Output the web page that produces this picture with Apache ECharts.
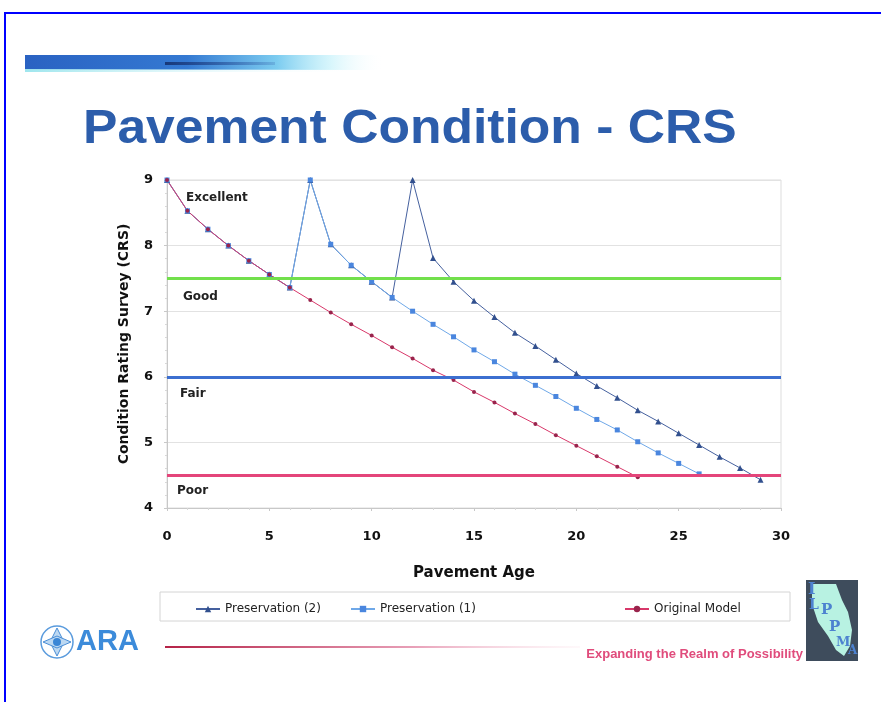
<!DOCTYPE html>
<html>
<head>
<meta charset="utf-8">
<script src="https://cdn.jsdelivr.net/npm/echarts@6/dist/echarts.min.js"></script>
<style>
html,body{margin:0;padding:0;background:#fff;}
#main{width:881px;height:702px;}
</style>
</head>
<body>
<div id="main"></div>
<script>
// values, one per pavement age (0,1,2,...)
var originalModel = [9, 8.53, 8.25, 8.0, 7.77, 7.56, 7.36, 7.17, 6.98, 6.80, 6.63, 6.45, 6.28, 6.10,
	5.95, 5.77, 5.61, 5.44, 5.28, 5.11, 4.95, 4.79, 4.63, 4.47];
var preservation1 = [9, 8.53, 8.25, 8.0, 7.77, 7.56, 7.36, 9, 8.02, 7.70, 7.45, 7.21, 7.0, 6.80,
	6.61, 6.41, 6.23, 6.04, 5.87, 5.70, 5.52, 5.35, 5.19, 5.01, 4.84, 4.68, 4.52];
var preservation2 = [9, 8.53, 8.25, 8.0, 7.77, 7.56, 7.36, 9, 8.02, 7.70, 7.45, 7.21, 9, 7.81,
	7.45, 7.16, 6.91, 6.67, 6.47, 6.26, 6.05, 5.86, 5.68, 5.49, 5.32, 5.14, 4.96, 4.78, 4.61, 4.43];
// condition thresholds
var thresholds = [7.5, 6, 4.5];
var thresholdColors = ['#72E04C', '#3C6FD0', '#E4457A'];
var zoneNames = ['Excellent', 'Good', 'Fair', 'Poor'];
var seriesNames = ['Preservation (2)', 'Preservation (1)', 'Original Model'];

var axisFont = 'DejaVu Sans';

//年龄-数值 配对
function toPairs(arr){
	var out = [];
	for(var i = 0; i < arr.length; i++){
		out.push([i, arr[i]]);
	}
	return out;
}

var chart = echarts.init(document.getElementById('main'));

var markData = [];
for(var i = 0; i < thresholds.length; i++){
	markData.push({
		yAxis: thresholds[i],
		lineStyle: { color: thresholdColors[i], width: 3, type: 'solid' }
	});
}

function legendAt(name, left){
	return {
		data: [name],
		left: left,
		top: 598,
		itemWidth: 24,
		itemHeight: 8,
		textStyle: { fontFamily: axisFont, fontSize: 12, color: '#222' }
	};
}

var zoneTop = [192, 291, 388, 485];
var zoneLeft = [186, 183, 180, 177];
var graphics = [
	// page frame
	{ type: 'polyline', shape: { points: [[881, 13], [5, 13], [5, 702]] },
		style: { stroke: '#0000FF', lineWidth: 2, fill: null } },
	// header bar
	{ type: 'rect', shape: { x: 25, y: 55, width: 360, height: 15 },
		style: { fill: new echarts.graphic.LinearGradient(0, 0, 1, 0, [
			{ offset: 0, color: '#2A62C2' },
			{ offset: 0.45, color: '#3479D2' },
			{ offset: 0.7, color: '#7CCCF0' },
			{ offset: 0.85, color: 'rgba(190,240,250,0.6)' },
			{ offset: 1, color: 'rgba(255,255,255,0)' }]) } },
	{ type: 'rect', shape: { x: 25, y: 69, width: 340, height: 3 },
		style: { fill: new echarts.graphic.LinearGradient(0, 0, 1, 0, [
			{ offset: 0, color: '#9FE6EE' },
			{ offset: 1, color: 'rgba(255,255,255,0)' }]) } },
	{ type: 'rect', shape: { x: 165, y: 62, width: 110, height: 3 },
		style: { fill: new echarts.graphic.LinearGradient(0, 0, 1, 0, [
			{ offset: 0, color: '#183878' },
			{ offset: 1, color: 'rgba(40,80,160,0.2)' }]) } },
	// title
	{ type: 'text', left: 83, top: 106, scaleX: 1.075,
		style: { text: 'Pavement Condition - CRS', fill: '#2C5DAB',
			font: 'bold 48px "Liberation Sans", Arial, sans-serif' } },
	// legend frame
	{ type: 'rect', shape: { x: 160, y: 592, width: 630, height: 29 },
		style: { fill: null, stroke: '#d4d4d4', lineWidth: 1 } },
	// ARA logo
	{ type: 'circle', shape: { cx: 57, cy: 642, r: 16 },
		style: { fill: null, stroke: '#5A9BDD', lineWidth: 1.5 } },
	{ type: 'polygon', shape: { points: [[57, 628], [64, 642], [57, 656], [50, 642]] },
		style: { fill: '#BCD8F2', stroke: '#4A8ED6', lineWidth: 1 } },
	{ type: 'polygon', shape: { points: [[43, 642], [57, 636], [71, 642], [57, 648]] },
		style: { fill: '#BCD8F2', stroke: '#4A8ED6', lineWidth: 1 } },
	{ type: 'circle', shape: { cx: 57, cy: 642, r: 4 }, style: { fill: '#3A86D6' } },
	{ type: 'text', left: 76, top: 627,
		style: { text: 'ARA', fill: '#3C8BDA', font: 'bold 29px "Liberation Sans", Arial, sans-serif' } },
	{ type: 'rect', shape: { x: 165, y: 646, width: 415, height: 2 },
		style: { fill: new echarts.graphic.LinearGradient(0, 0, 1, 0, [
			{ offset: 0, color: '#B52247' },
			{ offset: 0.6, color: '#E8A0B8' },
			{ offset: 1, color: 'rgba(250,220,230,0.2)' }]) } },
	{ type: 'text', right: 78, top: 648,
		style: { text: 'Expanding the Realm of Possibility', fill: '#E04C7C',
			font: 'bold 13px "Liberation Sans", Arial, sans-serif' } },
	// ILPPMA logo
	{ type: 'rect', shape: { x: 806, y: 580, width: 52, height: 81 },
		style: { fill: '#3E4C5C' } },
	{ type: 'polygon', shape: { points: [[812, 584], [836, 584], [842, 600], [848, 612], [852, 630], [850, 646],
		[844, 656], [836, 650], [828, 636], [818, 622], [812, 604]] },
		style: { fill: '#B8F2E2' } },
	{ type: 'text', left: 808, top: 582, style: { text: 'I', fill: '#4D82D0', font: 'bold 16px "DejaVu Serif", serif' } },
	{ type: 'text', left: 809, top: 598, style: { text: 'L', fill: '#4D82D0', font: 'bold 14px "DejaVu Serif", serif' } },
	{ type: 'text', left: 821, top: 603, style: { text: 'P', fill: '#4D82D0', font: 'bold 15px "DejaVu Serif", serif' } },
	{ type: 'text', left: 829, top: 620, style: { text: 'P', fill: '#4D82D0', font: 'bold 15px "DejaVu Serif", serif' } },
	{ type: 'text', left: 836, top: 636, style: { text: 'M', fill: '#4D82D0', font: 'bold 13px "DejaVu Serif", serif' } },
	{ type: 'text', left: 848, top: 645, style: { text: 'A', fill: '#4D82D0', font: 'bold 12px "DejaVu Serif", serif' } }
];
for(var z = 0; z < zoneNames.length; z++){
	graphics.push({ type: 'text', left: zoneLeft[z], top: zoneTop[z], z: 10,
		style: { text: zoneNames[z], fill: '#222', font: 'bold 12px "DejaVu Sans", sans-serif' } });
}

var option = {
	backgroundColor: '#fff',
	animation: false,
	grid: { left: 167, right: 100, top: 180, bottom: 194, show: true, borderColor: '#ddd', borderWidth: 1 },
	legend: [
		legendAt(seriesNames[0], 190),
		legendAt(seriesNames[1], 345),
		legendAt(seriesNames[2], 619)
	],
	xAxis: {
		type: 'value', min: 0, max: 30, interval: 5,
		name: 'Pavement Age', nameLocation: 'middle', nameGap: 58,
		nameTextStyle: { fontFamily: axisFont, fontWeight: 'bold', fontSize: 15, color: '#111' },
		axisLine: { lineStyle: { color: '#c8c8c8' } },
		axisTick: { show: true, length: 3, lineStyle: { color: '#c8c8c8' } },
		minorTick: { show: true, splitNumber: 5, length: 2, lineStyle: { color: '#d8d8d8' } },
		splitLine: { show: false },
		axisLabel: { margin: 22, fontFamily: axisFont, fontWeight: 'bold', fontSize: 13, color: '#111' }
	},
	yAxis: {
		type: 'value', min: 4, max: 9, interval: 1,
		name: 'Condition Rating Survey (CRS)', nameLocation: 'middle', nameGap: 36,
		nameTextStyle: { fontFamily: axisFont, fontWeight: 'bold', fontSize: 14, color: '#111' },
		axisLine: { show: true, lineStyle: { color: '#c8c8c8' } },
		axisTick: { show: true, length: 3, lineStyle: { color: '#c8c8c8' } },
		minorTick: { show: true, splitNumber: 5, length: 2, lineStyle: { color: '#d8d8d8' } },
		splitLine: { show: true, lineStyle: { color: '#e2e2e2' } },
		axisLabel: { margin: 14, fontFamily: axisFont, fontWeight: 'bold', fontSize: 13, color: '#111' }
	},
	graphic: graphics,
	series: [
		{
			name: 'thresholds', type: 'line', data: [], silent: true,
			markLine: { silent: true, symbol: 'none', label: { show: false }, data: markData }
		},
		{
			name: seriesNames[0], type: 'line', data: toPairs(preservation2),
			symbol: 'triangle', symbolSize: 6, showSymbol: true,
			lineStyle: { color: '#45609E', width: 1 },
			itemStyle: { color: '#32508E' }
		},
		{
			name: seriesNames[1], type: 'line', data: toPairs(preservation1),
			symbol: 'rect', symbolSize: 5, showSymbol: true,
			lineStyle: { color: '#6FA8E8', width: 1 },
			itemStyle: { color: '#4A86DE' }
		},
		{
			name: seriesNames[2], type: 'line', data: toPairs(originalModel),
			symbol: 'circle', symbolSize: 4, showSymbol: true,
			lineStyle: { color: '#D8386A', width: 1 },
			itemStyle: { color: '#99244C' }
		}
	]
};
chart.setOption(option);
</script>
</body>
</html>
